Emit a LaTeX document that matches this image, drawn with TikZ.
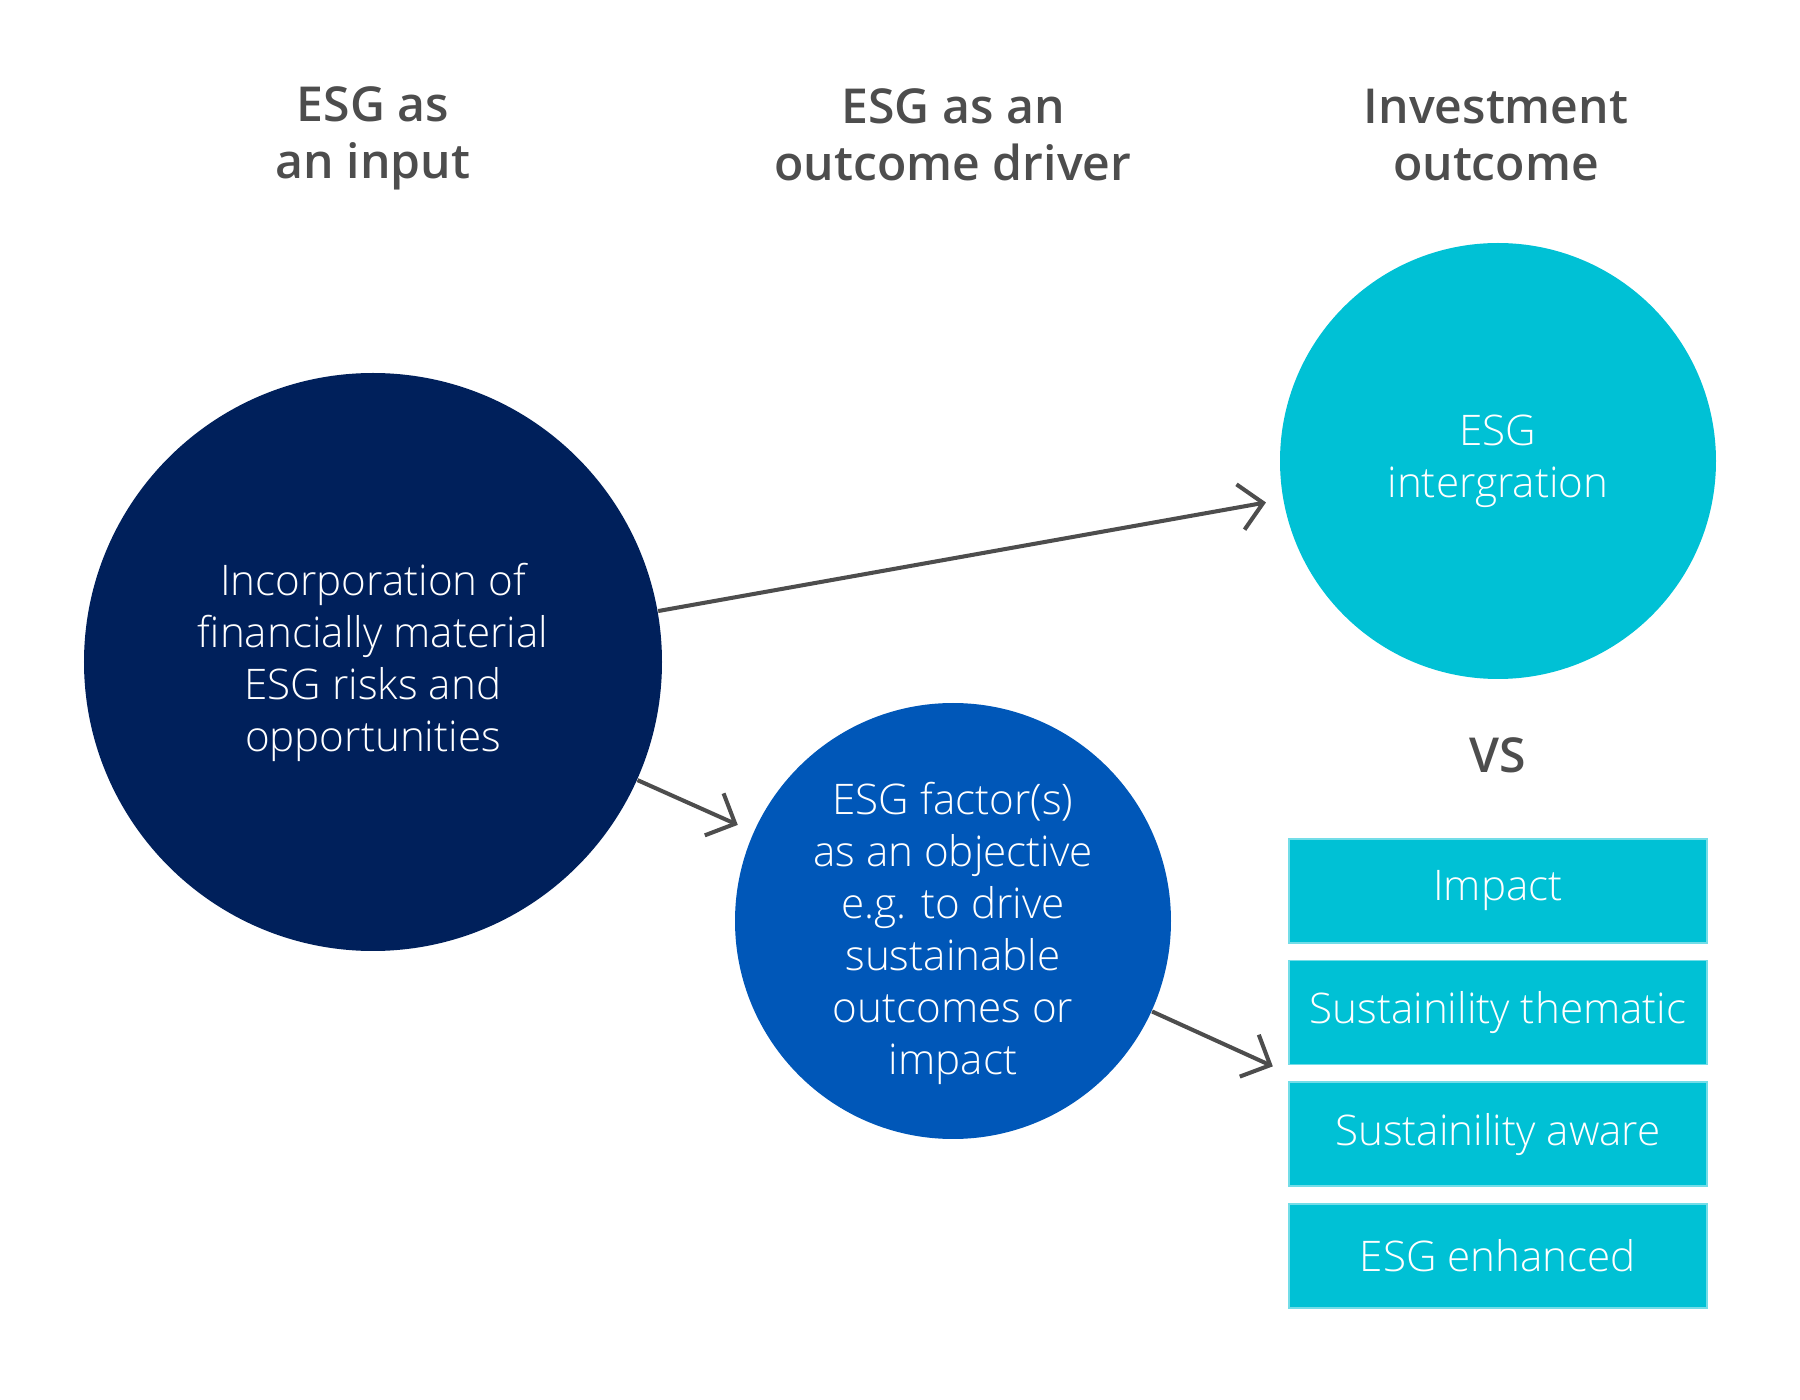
\documentclass[tikz,border=0pt]{standalone}
\usepackage{fontspec}
\setmainfont{Open Sans}
\IfFontExistsTF{Open Sans Light}{\newfontfamily\thinfont{Open Sans Light}}{\newfontfamily\thinfont{Open Sans}}
\IfFontExistsTF{Open Sans Semibold}{\newfontfamily\headfont{Open Sans Semibold}}{\newfontfamily\headfont{Open Sans}[UprightFont=*-Bold]}
\usetikzlibrary{arrows.meta,calc}
\definecolor{esgnavy}{HTML}{00205B}
\definecolor{esgblue}{HTML}{0057B8}
\definecolor{esgcyan}{HTML}{00C1D5}
\definecolor{esggrey}{HTML}{4D4D4D}

\begin{document}
\begin{tikzpicture}[
    head/.style={text=esggrey, align=center, font=\headfont\fontsize{13.7}{16.3}\selectfont},
    disc/.style={circle, inner sep=0pt, text=white, align=center, font=\thinfont\fontsize{12}{14.8}\selectfont},
    tag/.style={fill=esgcyan, draw=esgcyan!55!white, line width=0.4pt, minimum width=4.18cm, minimum height=1.04cm, text=white, font=\thinfont\fontsize{12}{14.8}\selectfont},
    link/.style={draw=esggrey, line width=1.15pt, -{Straight Barb[length=0.23cm, width=0.46cm]}, shorten >=0.17cm}]
    \useasboundingbox (0,0) rectangle (18,13.99);
    \node[head] (h1) at (3.73,12.61) {ESG as\\an input};
    \node[head] (h2) at (9.53,12.64) {ESG as an\\outcome driver};
    \node[head] (h3) at (14.96,12.64) {Investment\\outcome};
    \node[disc, fill=esgnavy, minimum size=5.78cm] (inp) at (3.73,7.37) {Incorporation of\\financially material\\ESG risks and\\opportunities};
    \node[disc, fill=esgcyan, minimum size=4.36cm] (integ) at (14.98,9.38) {ESG\\intergration};
    \node[disc, fill=esgblue, minimum size=4.36cm, inner sep=-1pt] (obj) at (9.53,4.78) {\raisebox{0pt}[\dimexpr\height+0.26cm\relax]{\begin{tabular}{@{}c@{}}ESG factor(s)\\as an objective\\e.g. to drive\\sustainable\\outcomes or\\impact\end{tabular}}};
    \node[head] (vs) at (14.98,6.44) {VS};
    \foreach \t [count=\i] in {Impact, Sustainility thematic, Sustainility aware, ESG enhanced}
        \node[tag] (b\i) at (14.98,{5.08-1.216*(\i-1)}) {\t};
    \coordinate (gap) at ($(b2.south west)!0.5!(b3.north west)$);
    \draw[link] (inp) -- (integ);
    \draw[link] (inp) -- (obj);
    \draw[link] (obj) -- (gap);
\end{tikzpicture}
\end{document}
